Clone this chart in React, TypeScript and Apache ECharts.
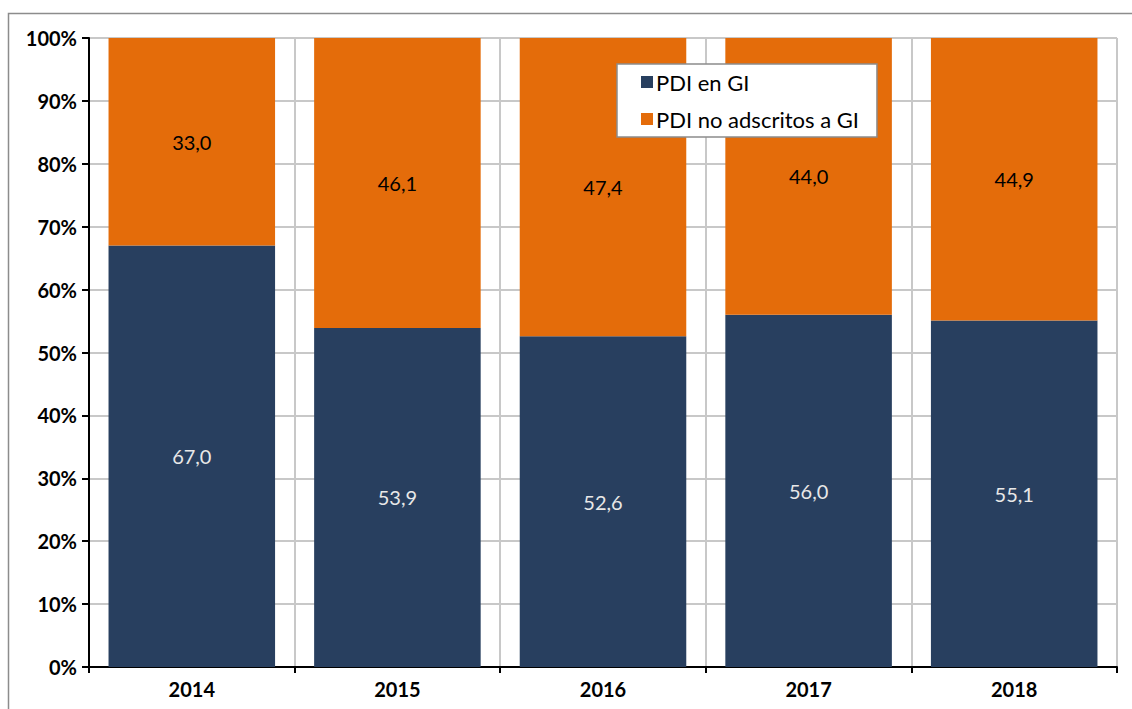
import React, { useEffect, useRef } from "react";
import * as echarts from "echarts";

const years = ["2014", "2015", "2016", "2017", "2018"];
const pdiEnGI = [67.0, 53.9, 52.6, 56.0, 55.1];
const pdiNoAdscritos = [33.0, 46.1, 47.4, 44.0, 44.9];
const seriesNames = ["PDI en GI", "PDI no adscritos a GI"];

const fmt = (v: number) => v.toFixed(1).replace(".", ",");

export default function App() {
  const ref = useRef<HTMLDivElement>(null);
  useEffect(() => {
    if (!ref.current) return;
    const chart = echarts.init(ref.current, null, { renderer: "svg" });
    const font = "Lato, 'Open Sans', sans-serif";
    chart.setOption({
      animation: false,
      backgroundColor: "#ffffff",
      graphic: [
        {
          type: "rect",
          shape: { x: 8.5, y: 13.5, width: 1140, height: 720 },
          style: { fill: "none", stroke: "#8c8c8c", lineWidth: 1.5 },
          silent: true,
          z: -10,
        },
      ],
      grid: { left: 89, top: 38, right: 15, bottom: 42, containLabel: false },
      legend: {
        orient: "vertical",
        left: 617,
        top: 64,
        padding: [7, 18, 7, 24],
        itemGap: 15,
        itemWidth: 12,
        itemHeight: 12,
        backgroundColor: "#ffffff",
        borderColor: "#8c8c8c",
        borderWidth: 1.5,
        borderRadius: 0,
        icon: "rect",
        textStyle: { fontFamily: font, fontSize: 22, color: "#000", padding: [0, 0, 0, -2] },
        data: seriesNames,
      },
      xAxis: {
        type: "category",
        data: years,
        axisLine: { lineStyle: { color: "#000", width: 2 } },
        axisTick: { show: true, length: 6, lineStyle: { color: "#000", width: 2 } },
        splitLine: { show: true, lineStyle: { color: "#c8c8c8", width: 2 } },
        axisLabel: {
          fontFamily: font,
          fontWeight: "bold",
          fontSize: 20,
          color: "#000",
          margin: 12,
        },
      },
      yAxis: {
        type: "value",
        min: 0,
        max: 100,
        interval: 10,
        axisLine: { show: true, lineStyle: { color: "#000", width: 2 } },
        axisTick: { show: true, length: 7, lineStyle: { color: "#000", width: 2 } },
        splitLine: { show: true, lineStyle: { color: "#c8c8c8", width: 2 } },
        axisLabel: {
          formatter: "{value}%",
          fontFamily: font,
          fontWeight: "bold",
          fontSize: 20,
          color: "#000",
          margin: 12,
        },
      },
      series: [
        {
          name: seriesNames[0],
          type: "bar",
          stack: "total",
          data: pdiEnGI,
          barCategoryGap: "19%",
          itemStyle: { color: "#283f5f" },
          label: {
            show: true,
            position: "inside",
            formatter: (p: any) => fmt(p.value),
            fontFamily: font,
            fontSize: 20,
            color: "#e8e8e8",
          },
        },
        {
          name: seriesNames[1],
          type: "bar",
          stack: "total",
          data: pdiNoAdscritos,
          barCategoryGap: "19%",
          itemStyle: { color: "#e46c0a" },
          label: {
            show: true,
            position: "inside",
            formatter: (p: any) => fmt(p.value),
            fontFamily: font,
            fontSize: 20,
            color: "#000",
          },
        },
      ],
    });
    return () => chart.dispose();
  }, []);
  return (
    <div
      ref={ref}
      style={{ position: "fixed", left: 0, top: 0, width: 1132, height: 709 }}
    />
  );
}
